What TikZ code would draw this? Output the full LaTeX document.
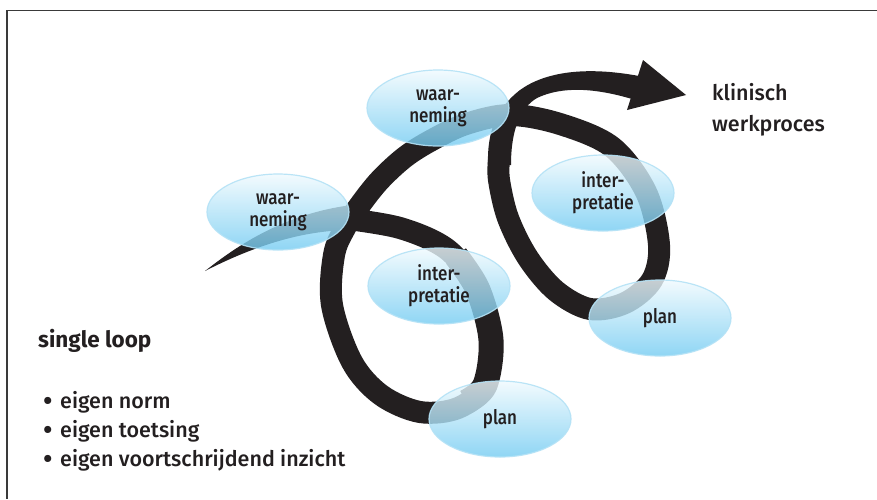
\documentclass[tikz,border=0pt]{standalone}
\usepackage{fontspec}
\IfFontExistsTF{Fira Sans Medium}{%
  \setmainfont{Fira Sans Medium}[BoldFont={Fira Sans Bold}]
  \newfontfamily\labelfont{Fira Sans Medium}[FakeStretch=0.85]
}{%
  \setmainfont{Fira Sans}[FakeBold=0.4]
  \newfontfamily\labelfont{Fira Sans}[FakeStretch=0.85,FakeBold=0.4]
}
\usetikzlibrary{shapes.geometric}
\definecolor{ink}{HTML}{231F20}
\definecolor{framegray}{HTML}{3A3A3A}
\definecolor{bubbletop}{HTML}{F0FAFE}
\definecolor{bubblebottom}{HTML}{74CCF2}
\definecolor{bubblerim}{HTML}{B4E2F6}
\tikzset{
  bubble/.style={ellipse, minimum width=142, minimum height=76, inner sep=0,
    top color=bubbletop, bottom color=bubblebottom, draw=bubblerim, line width=1.2,
    fill opacity=0.8, draw opacity=0.9, text opacity=1, text=ink,
    font=\labelfont\fontsize{20}{22}\selectfont, align=center},
  ribbon/.style={draw=ink, line cap=butt, line join=round},
  sidetext/.style={anchor=base west, text=ink, inner sep=0, font=\fontsize{21.5}{24}\selectfont},
  framerule/.style={draw=framegray, line width=1.6},
}
\newcommand\bulletmark{\makebox[17pt][l]{\raisebox{-2.5pt}{\scalebox{1.3}{•}}}}
\begin{document}
\begin{tikzpicture}[x=1pt,y=-1pt]
\useasboundingbox (0,0) rectangle (877,499);
\fill[white] (0,0) rectangle (877,499);
% frame: top and left rules only
\coordinate (ftl) at (7,10.5);
\coordinate (ftr) at (877,10.5);
\coordinate (fbl) at (7,499);
\draw[framerule] (ftr) -- (ftl) -- (fbl);

% tapering tail of the coil
\fill[ink] (205,271) .. controls (232,250) and (280,214) .. (352,205)
  -- (352,230) .. controls (300,230) and (250,248) .. (205,271) -- cycle;

% the two loops of the coil
\draw[ribbon, line width=22] plot[smooth, tension=0.55] coordinates {
  (340,218) (400,228) (448,250) (478,290) (491,340) (485,385) (458,408)
  (420,412) (381,395) (352,362) (332,305) (334,255) (345,228) (360,205)
  (380,180) (405,157) (432,140) (466,124) (510,115) (560,124) (612,147)
  (646,192) (659,245) (652,280) (625,303) (590,309) (556,291) (528,258)
  (508,218) (499,180) (499,160)};
% heavier right flank of the first loop
\draw[ribbon, line width=25] plot[smooth, tension=0.55] coordinates {
  (456,256) (478,290) (491,340) (485,385) (466,402)};

% outgoing arc and arrowhead
\fill[ink] (488,165) .. controls (487,130) and (497,108) .. (520,90)
  .. controls (545,72) and (585,66) .. (639,76) -- (632,99)
  .. controls (595,88) and (562,86) .. (537,98)
  .. controls (520,108) and (511,130) .. (511,165) -- cycle;
\fill[ink] (643,60) -- (686,95) -- (627,110) -- cycle;

% bubbles
\node[bubble] (w1) at (278,212) {waar-\\neming};
\node[bubble] (w2) at (438,108) {waar-\\neming};
\node[bubble] (i1) at (439,286) {inter-\\pretatie};
\node[bubble] (i2) at (603,193) {inter-\\pretatie};
\node[bubble] (p1) at (500,419) {plan};
\node[bubble] (p2) at (660,318) {plan};

% captions
\node[sidetext] (k1) at (712,100) {klinisch};
\node[sidetext] (k2) at (712,131) {werkproces};
\node[sidetext, font=\bfseries\fontsize{22.5}{24}\selectfont] (sl) at (38,347) {single loop};
\node[sidetext] (b1) at (43,408) {\bulletmark eigen norm};
\node[sidetext] (b2) at (43,437) {\bulletmark eigen toetsing};
\node[sidetext] (b3) at (43,466) {\bulletmark eigen voortschrijdend inzicht};
\end{tikzpicture}
\end{document}
